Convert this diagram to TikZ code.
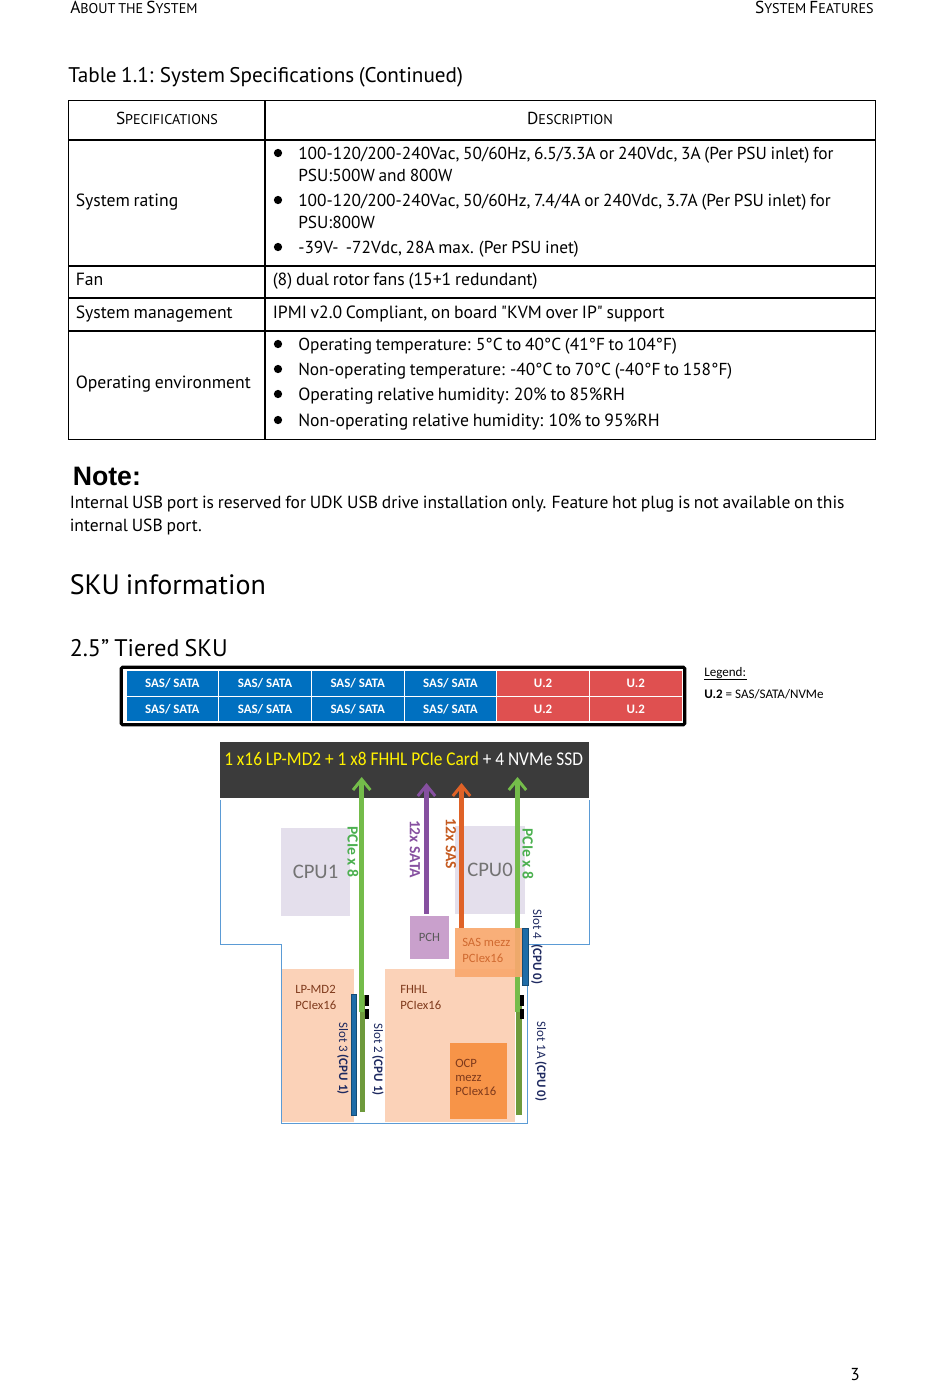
\documentclass[tikz,border=0pt]{standalone}
\usepackage{fontspec}
\setmainfont{PT Sans}[WordSpace=0.8]
\newfontfamily\plainq[WordSpace=0.8]{PT Sans}
\newfontfamily\calib{Carlito}
\newfontfamily\calibn[FakeStretch=0.89]{Carlito}
\newfontfamily\arialb{Liberation Sans}
\usetikzlibrary{arrows.meta}
\definecolor{sasblue}{HTML}{0070C0}
\definecolor{ublock}{HTML}{DF5050}
\definecolor{banner}{HTML}{3B3B3B}
\definecolor{cpugrey}{HTML}{E4DFEC}
\definecolor{pchpurple}{HTML}{C9A0CC}
\definecolor{peach}{HTML}{FBD2B8}
\definecolor{mezzorange}{HTML}{F9A86E}
\definecolor{ocporange}{HTML}{F79448}
\definecolor{arrowgreen}{HTML}{74BC4A}
\definecolor{arrowpurple}{HTML}{8650A0}
\definecolor{arroworange}{HTML}{DF6227}
\definecolor{labelgreen}{HTML}{4CB050}
\definecolor{labelorange}{HTML}{C55A20}
\definecolor{mezztext}{HTML}{D06A30}
\definecolor{slotgreen}{HTML}{6E9A3C}
\definecolor{slotblue}{HTML}{1F6CA8}
\definecolor{outline}{HTML}{5B9BD5}
\definecolor{navy}{HTML}{1F2A60}
\definecolor{brownlabel}{HTML}{7F3A1C}
\newcommand{\capsc}[2]{{#1\fontsize{10.6}{12}\selectfont #2}}
\newcommand{\bodysize}{\fontsize{13}{16}\selectfont}
\newcommand{\widesize}{\fontsize{13.25}{16}\selectfont}
\tikzset{
    %Define standard arrow tip
    >={Straight Barb[length=8pt,width=13pt,line width=2.2pt]},
    %Box of a given size in pixels
    sz/.style 2 args={
           rectangle,
           inner sep=0pt,
           minimum width=#1*.75pt,
           minimum height=#2*.75pt},
    % Text styles
    txt/.style={anchor=base west,inner sep=0pt,font=\bodysize},
    widetxt/.style={txt,font=\widesize},
    dot/.style={circle,fill=black,inner sep=0pt,minimum size=6.2pt},
    diag/.style={inner sep=0pt,font=\calib\fontsize{9.5}{10}\selectfont},
    slotlabel/.style={diag,rotate=-90,text=navy,font=\calib\fontsize{9.7}{10}\selectfont},
    linklabel/.style={diag,rotate=-90,font=\calib\bfseries\fontsize{11.7}{12}\selectfont},
    celllabel/.style={text=white,font=\calib\bfseries\fontsize{9.7}{10}\selectfont},
    % Define arrow style
    pil/.style={->,line width=3.8pt},
    rule/.style={black,line width=.8pt},
    board/.style={outline,line width=.6pt}
}
\begin{document}
\begin{tikzpicture}[x=.75pt,y=-.75pt]
\useasboundingbox (0,0) rectangle (950,1397);
% page header
\node[txt,font=\fontsize{13}{16}\selectfont] (headl) at (70,13) {\capsc{A}{BOUT THE }\capsc{S}{YSTEM}};
\node[txt,anchor=base east] (headr) at (874,13) {\capsc{S}{YSTEM }\capsc{F}{EATURES}};
\node[txt,font=\fontsize{15.9}{18}\selectfont] (tabtitle) at (68,82) {Table 1.1: System Specifications (Continued)};
% table rules
\coordinate (tl) at (68.5,100.5);
\coordinate (br) at (875.5,439.5);
\draw[rule] (tl) rectangle (br);
\draw[rule] (265,100.5) -- (265,439.5);
\foreach \rowy in {140,266,298,331}
  \draw[rule] (68.5,\rowy) -- (875.5,\rowy);
% table text
\node[txt,anchor=base] (spec) at (167,124) {\capsc{S}{PECIFICATIONS}};
\node[txt,anchor=base] (desc) at (570,124) {\capsc{D}{ESCRIPTION}};
\node[widetxt] (rating) at (75.5,206) {System rating};
\node[widetxt] (fan) at (75.5,285) {Fan};
\node[widetxt] (mgmt) at (75.5,318) {System management};
\node[widetxt] (env) at (75.5,388) {Operating environment};
\node[widetxt] (fantxt) at (272.5,285) {(8) dual rotor fans (15+1 redundant)};
\node[widetxt] (mgmttxt) at (272.5,318) {\plainq IPMI v2.0 Compliant, on board "KVM over IP" support};
\foreach \doty in {153,200,247,344,369,394,420}
  \node[dot] at (278,\doty) {};
\node[txt] (r1) at (298,159) {100-120/200-240Vac, 50/60Hz, 6.5/3.3A or 240Vdc, 3A (Per PSU inlet) for};
\node[txt] (r2) at (298,181) {PSU:500W and 800W};
\node[txt] (r3) at (298,206) {100-120/200-240Vac, 50/60Hz, 7.4/4A or 240Vdc, 3.7A (Per PSU inlet) for};
\node[txt] (r4) at (298,228) {PSU:800W};
\node[txt] (r5) at (298,253) {-39V-~ -72Vdc, 28A max. (Per PSU inet)};
\node[txt] (e1) at (298,350) {Operating temperature: 5°C to 40°C (41°F to 104°F)};
\node[txt] (e2) at (298,375) {Non-operating temperature: -40°C to 70°C (-40°F to 158°F)};
\node[widetxt] (e3) at (298,400) {Operating relative humidity: 20\% to 85\%RH};
\node[widetxt] (e4) at (298,426) {Non-operating relative humidity: 10\% to 95\%RH};
% note and headings
\node[txt,font=\arialb\bfseries\fontsize{20}{24}\selectfont] (note) at (72.5,485) {Note:};
\node[txt,font=\fontsize{13.15}{16}\selectfont] (n1) at (69.5,508) {Internal USB port is reserved for UDK USB drive installation only. Feature hot plug is not available on this};
\node[txt,font=\fontsize{13.15}{16}\selectfont] (n2) at (69.5,531) {internal USB port.};
\node[txt,font=\fontsize{21}{24}\selectfont] (sku) at (69.5,594) {SKU information};
\node[txt,font=\fontsize{18}{22}\selectfont] (tier) at (69.5,656) {2.5” Tiered SKU};
% drive bays
\node[sz={563.5}{57.5},draw=black,line width=2.4pt,rounded corners=1pt] (bays) at (403,696) {};
\foreach \rowy/\rowname in {683.5/top,709/bot}{
  \foreach \col in {0,1,2,3}
    \node[sz={92.7}{25.5},fill=sasblue,draw=white,line width=.6pt,celllabel] (bay-\rowname-\col) at (172.3+92.7*\col,\rowy) {SAS/ SATA};
  \foreach \col in {4,5}
    \node[sz={92.7}{25.5},fill=ublock,draw=white,line width=.6pt,celllabel] (bay-\rowname-\col) at (172.3+92.7*\col,\rowy) {U.2};
}
\node[txt,font=\calib\fontsize{9.8}{10}\selectfont] (legend) at (704,676) {Legend:};
\draw[black,line width=.6pt] (legend.base west)++(0,3) -- ++(43,0);
\node[txt,font=\calib\fontsize{9.8}{10}\selectfont] (legendu) at (704,698) {\textbf{U.2} = SAS/SATA/NVMe};
% board outline
\coordinate (o1) at (220,800);
\coordinate (o2) at (220,944);
\coordinate (o3) at (281,944);
\coordinate (o4) at (281,1123);
\coordinate (o5) at (527,1123);
\coordinate (o6) at (527,944);
\coordinate (o7) at (589,944);
\coordinate (o8) at (589,800);
\draw[board] (o1) -- (o2) -- (o3) -- (o4) -- (o5) -- (o6) -- (o7) -- (o8);
% banner
\node[sz={369}{56},fill=banner] (top) at (404.5,770) {};
\node[anchor=base west,inner sep=0pt,font=\calibn\fontsize{14.6}{16}\selectfont] (toptxt) at (224,765) {\textcolor{yellow}{1 x16 LP-MD2 + 1 x8 FHHL PCIe Card} \textcolor{white}{+ 4 NVMe SSD}};
% components
\node[sz={68.5}{88},fill=cpugrey,text=black!55,font=\calib\fontsize{15.5}{18}\selectfont] (cpu1) at (315.5,872) {CPU1};
\node[sz={70}{88},fill=cpugrey,text=black!55,font=\calib\fontsize{15.5}{18}\selectfont] (cpu0) at (490,870) {CPU0};
\node[sz={39}{43},fill=pchpurple,text=black!65,diag] (pch) at (429.5,937.5) {PCH};
\node[sz={72}{153},fill=peach] (lpcard) at (318,1045.5) {};
\node[sz={130}{153},fill=peach] (fhhl) at (450,1045.5) {};
\node[sz={57}{76},fill=ocporange] (ocp) at (478.5,1081) {};
\node[diag,anchor=base west,text=brownlabel] at (295,993) {LP-MD2};
\node[diag,anchor=base west,text=brownlabel] at (295,1009) {PCIex16};
\node[diag,anchor=base west,text=brownlabel] at (400,993) {FHHL};
\node[diag,anchor=base west,text=brownlabel] at (400,1009) {PCIex16};
\node[diag,anchor=base west,text=brownlabel] at (455,1067) {OCP};
\node[diag,anchor=base west,text=brownlabel] at (455,1081) {mezz};
\node[diag,anchor=base west,text=brownlabel] at (455,1095) {PCIex16};
% links
\node[sz={5.5}{117},fill=slotgreen] (slot2) at (362.7,1053.5) {};
\node[sz={6}{120},fill=slotgreen] (slot1a) at (519,1055) {};
\coordinate (tipl) at (361.7,777);
\coordinate (tipr) at (517.5,777);
\coordinate (tipp) at (426.5,783);
\coordinate (tipo) at (461.5,783);
\coordinate (footl) at (361.7,1012);
\coordinate (footr) at (517.5,1012);
\draw[pil,arrowgreen] (footl) -- (tipl);
\draw[pil,arrowgreen] (footr) -- (tipr);
\draw[pil,arrowpurple] (tipp |- pch.north) ++(0,-2) -- (tipp);
\node[sz={67}{49},fill=mezzorange,opacity=.92] (mezz) at (488.5,952.5) {};
\draw[pil,arroworange] (tipo |- mezz.north) -- (tipo);
\node[diag,anchor=base west,text=mezztext] at (462,946) {SAS mezz};
\node[diag,anchor=base west,text=mezztext] at (462,962) {PCIex16};
\node[sz={5.7}{121},fill=slotblue,draw=slotblue!70!black,line width=.3pt] (slot3) at (353.8,1055) {};
\node[sz={6}{57},fill=slotblue,draw=slotblue!70!black,line width=.3pt] (slot4) at (525.3,956.5) {};
\foreach \blockx/\blockname in {367/l,522.2/r}{
  \node[sz={4}{11},fill=black] (lat-\blockname-a) at (\blockx,1000.5) {};
  \node[sz={4}{10},fill=black] (lat-\blockname-b) at (\blockx,1014) {};
}
% labels along the links
\node[linklabel,text=labelgreen] at (353,852) {PCIe x 8};
\node[linklabel,text=labelgreen] at (528,854) {PCIe x 8};
\node[linklabel,text=arrowpurple] at (415,849) {12x SATA};
\node[linklabel,text=labelorange] at (451,844) {12x SAS};
\node[slotlabel] at (537,947) {Slot 4~ \textbf{(CPU 0)}};
\node[slotlabel] at (343,1058.5) {Slot 3 \textbf{(CPU 1)}};
\node[slotlabel] at (378,1059.5) {Slot 2 \textbf{(CPU 1)}};
\node[slotlabel] at (541,1061.5) {Slot 1A \textbf{(CPU 0)}};
\node[txt] (pageno) at (850,1380) {3};
\end{tikzpicture}
\end{document}
